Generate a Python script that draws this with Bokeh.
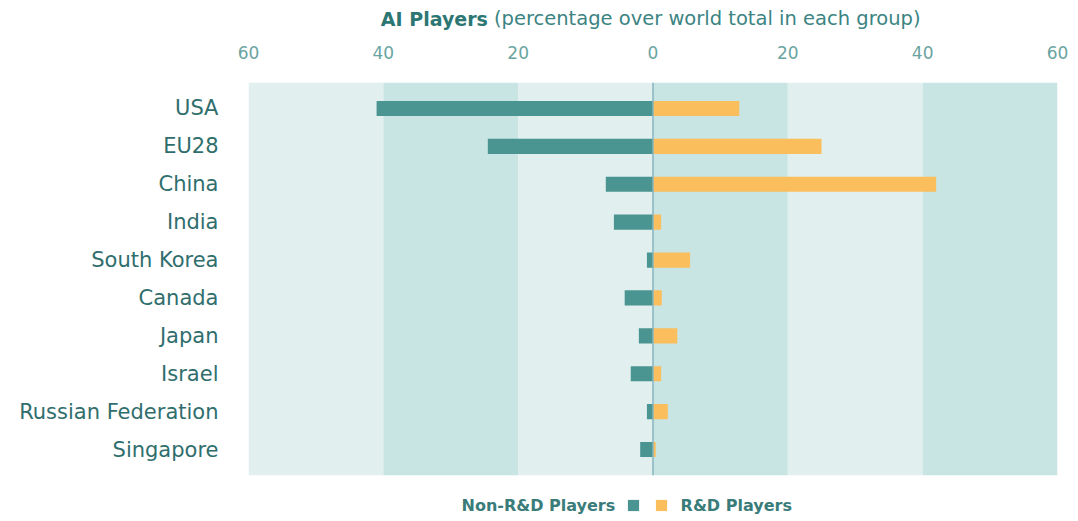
from bokeh.plotting import figure
from bokeh.layouts import column
from bokeh.models import (FactorRange, Range1d, BoxAnnotation, Span,
                          Legend, LegendItem, FixedTicker)
from bokeh.core.properties import value
from bokeh.embed import file_html
from bokeh.resources import INLINE

countries = ["USA", "EU28", "China", "India", "South Korea", "Canada",
             "Japan", "Israel", "Russian Federation", "Singapore"]
non_rd = [41.0, 24.5, 7.0, 5.8, 0.9, 4.2, 2.1, 3.3, 0.9, 1.9]
rd = [12.8, 25.0, 42.0, 1.2, 5.5, 1.3, 3.6, 1.2, 2.2, 0.4]
tick_values = [-60, -40, -20, 0, 20, 40, 60]
tick_labels = ["60", "40", "20", "0", "20", "40", "60"]
title_bold = "AI Players"
title_rest = "(percentage over world total in each group)"
legend_labels = ["Non-R&D Players", "R&D Players"]

FONT = "DejaVu Sans"
TEAL = "#4a9591"
ORANGE = "#fbbe5c"
LIGHT_BAND = "#e1efee"
DARK_BAND = "#c8e4e3"
W = 1078
BORDER_L, BORDER_R = 248, 21

x_range = Range1d(tick_values[0], tick_values[-1])


def strip(h):
    f = figure(width=W, height=h, output_backend="svg", toolbar_location=None,
               x_range=x_range, y_range=Range1d(0, h),
               x_axis_type=None, y_axis_type=None,
               min_border_left=BORDER_L, min_border_right=BORDER_R,
               min_border_top=0, min_border_bottom=0)
    f.outline_line_color = None
    f.grid.visible = False
    f.background_fill_color = "white"
    f.border_fill_color = "white"
    return f


# ---- title strip ----
t = strip(38)
t.text(x=[-24.5], y=[20], text=[title_bold], text_align="right",
       text_baseline="middle", text_font=value(FONT), text_font_size="19px",
       text_font_style="bold", text_color="#2c7674")
t.text(x=[-23.6], y=[20], text=[title_rest], text_align="left",
       text_baseline="middle", text_font=value(FONT), text_font_size="19.5px",
       text_color="#3b8482")

# ---- main chart ----
p = figure(width=W, height=447, output_backend="svg", toolbar_location=None,
           y_range=FactorRange(*reversed(countries), range_padding=0.185,
                               range_padding_units="absolute"),
           x_range=x_range, x_axis_location="above",
           min_border_left=BORDER_L, min_border_right=BORDER_R,
           min_border_top=44, min_border_bottom=10)
p.outline_line_color = None
p.grid.visible = False
p.background_fill_color = "white"
p.border_fill_color = "white"

for i in range(len(tick_values) - 1):
    color = LIGHT_BAND if i % 2 == 0 else DARK_BAND
    p.add_layout(BoxAnnotation(left=tick_values[i], right=tick_values[i + 1],
                               fill_color=color, fill_alpha=1.0,
                               line_alpha=0, level="underlay"))

p.hbar(y=countries, left=[-v for v in non_rd], right=0, height=0.4,
       fill_color=TEAL, line_color=None)
p.hbar(y=countries, left=0, right=rd, height=0.4,
       fill_color=ORANGE, line_color=None)

p.add_layout(Span(location=0, dimension="height", line_color="#86b6bf",
                  line_width=1.5))

xa = p.xaxis[0]
xa.ticker = FixedTicker(ticks=tick_values)
xa.major_label_overrides = {v: l for v, l in zip(tick_values, tick_labels)}
xa.axis_line_color = None
xa.major_tick_line_color = None
xa.minor_tick_line_color = None
xa.major_label_standoff = 18
xa.major_label_text_font = FONT
xa.major_label_text_font_size = "17px"
xa.major_label_text_color = "#6aa4a1"

ya = p.yaxis[0]
ya.axis_line_color = None
ya.major_tick_line_color = None
ya.minor_tick_line_color = None
ya.major_label_standoff = 24
ya.major_label_text_font = FONT
ya.major_label_text_font_size = "21px"
ya.major_label_text_color = "#2f6e6d"

# ---- legend strip ----
lg = strip(36)
lg.text(x=[-5.6], y=[16], text=[legend_labels[0]], text_align="right",
        text_baseline="middle", text_font=value(FONT), text_font_size="16px",
        text_font_style="bold", text_color="#3a7c7a")
d_non = lg.hbar(y=[0], left=[0], right=[0], height=1, fill_color=TEAL,
                line_color=None)
d_rd = lg.hbar(y=[0], left=[0], right=[0], height=1, fill_color=ORANGE,
               line_color=None)
legend = Legend(items=[LegendItem(label=" ", renderers=[d_non]),
                       LegendItem(label=legend_labels[1], renderers=[d_rd])],
                orientation="horizontal", location=(377.6, 6),
                glyph_width=14, glyph_height=14, label_standoff=13, spacing=0,
                padding=0, margin=0, border_line_color=None,
                background_fill_alpha=0, label_text_font=FONT,
                label_text_font_size="16px", label_text_font_style="bold",
                label_text_color="#3a7c7a", label_height=20, label_width=1)
lg.add_layout(legend)

layout = column(t, p, lg, spacing=0)
open("out.html", "w").write(file_html(layout, INLINE))
